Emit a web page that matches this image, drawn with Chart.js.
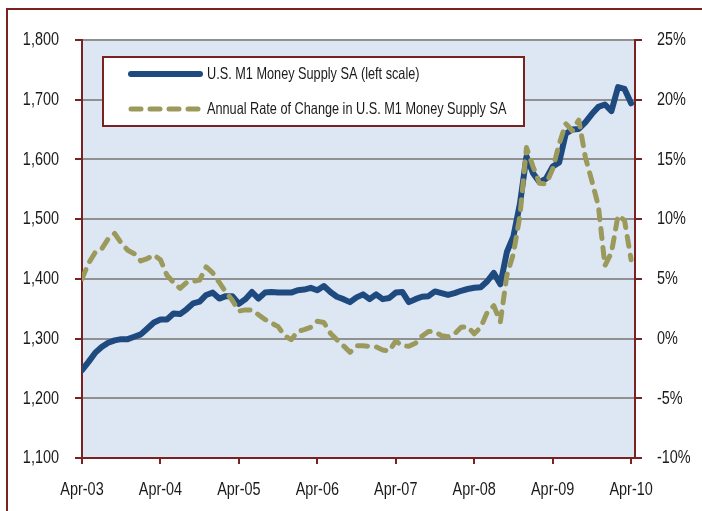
<!DOCTYPE html>
<html>
<head>
<meta charset="utf-8">
<script src="https://cdn.jsdelivr.net/npm/chart.js@4.4.1/dist/chart.umd.min.js"></script>
<style>
  html, body { margin: 0; padding: 0; background: #ffffff; }
  #wrap { width: 702px; height: 511px; position: relative; }
</style>
</head>
<body>
<div id="wrap"><canvas id="c" width="702" height="511"></canvas></div>
<script>
// Monthly data, Apr-03 .. Apr-10 (85 months)
const m1Supply = [
  1247, 1261, 1276, 1286, 1293, 1297, 1299, 1299, 1303, 1307, 1317, 1327,
  1332, 1332, 1342, 1341, 1349, 1359, 1362, 1373, 1377, 1367, 1371, 1371,
  1358, 1366, 1378, 1367, 1377, 1378, 1377, 1377, 1377, 1381, 1382, 1385,
  1381, 1388, 1378, 1370, 1366, 1361, 1369, 1374, 1366, 1374, 1366, 1368,
  1377, 1378, 1361, 1366, 1370, 1371, 1379, 1376, 1373, 1376, 1380, 1383,
  1385, 1386, 1396, 1410, 1391, 1445, 1471, 1526, 1605, 1577, 1562, 1568,
  1588, 1595, 1643, 1650, 1651, 1662, 1676, 1688, 1692, 1681, 1721, 1718,
  1694
];
const annualRate = [
  5.0, 6.3, 7.2, 7.5, 8.35, 8.8, 8.0, 7.4, 7.1, 6.5, 6.7, 7.0,
  6.6, 5.3, 4.7, 4.2, 4.7, 4.8, 4.9, 6.0, 5.5, 4.7, 3.9, 3.2,
  2.3, 2.4, 2.4, 2.0, 1.6, 1.3, 1.0, 0.25, -0.1, 0.6, 0.75, 0.95,
  1.45, 1.35, 0.45, -0.1, -0.6, -1.15, -0.6, -0.6, -0.65, -0.7, -0.95, -1.05,
  -0.2, -0.6, -0.65, -0.4, 0.2, 0.6, 0.55, 0.25, 0.15, 0.4, 0.95, 1.0,
  0.4, 0.95, 2.2, 2.75, 1.4, 5.3, 7.1, 10.3, 16.0, 14.4, 13.0, 12.95,
  14.2, 16.3, 18.0, 17.4, 18.3, 15.2, 13.2, 11.1, 6.1, 7.2, 10.3, 9.9,
  6.6
];
const xTickLabels = ['Apr-03', 'Apr-04', 'Apr-05', 'Apr-06', 'Apr-07', 'Apr-08', 'Apr-09', 'Apr-10'];
const seriesNames = ['U.S. M1 Money Supply SA (left scale)', 'Annual Rate of Change in U.S. M1 Money Supply SA'];

const DARK_RED = '#7a2222';
const BLUE = '#1f4a80';
const OLIVE = '#9b9a5c';
const PLOT_BG = '#dde7f3';
const GRID = '#909090';
const TEXT = '#1a1a1a';
const FONT = '"Liberation Sans", Arial, sans-serif';
const SQUEEZE = 0.76;

function condensedText(ctx, text, x, y, size, align, squeeze) {
  ctx.save();
  ctx.font = size + 'px ' + FONT;
  ctx.fillStyle = TEXT;
  ctx.textAlign = align;
  ctx.textBaseline = 'middle';
  ctx.translate(x, y);
  ctx.scale(squeeze, 1);
  ctx.fillText(text, 0, 0);
  ctx.restore();
}

const bgPlugin = {
  id: 'bg',
  beforeDraw(chart) {
    const { ctx, chartArea: a } = chart;
    ctx.save();
    ctx.fillStyle = '#ffffff';
    ctx.fillRect(0, 0, chart.width, chart.height);
    ctx.fillStyle = PLOT_BG;
    ctx.fillRect(a.left, a.top, a.right - a.left, a.bottom - a.top);
    ctx.restore();
  },
  afterDraw(chart) {
    const { ctx } = chart;
    ctx.save();
    // outer frame (cut off on right/bottom like the reference)
    ctx.strokeStyle = DARK_RED;
    ctx.lineWidth = 2;
    ctx.beginPath();
    ctx.moveTo(7, 520);
    ctx.lineTo(7, 9);
    ctx.lineTo(710, 9);
    ctx.stroke();
    ctx.restore();

    // tick labels (condensed), positioned by the library's scales
    const sx = chart.scales.x, sl = chart.scales.yL, sr = chart.scales.yR;
    sl.ticks.forEach(t => condensedText(ctx, t.label, 59, sl.getPixelForValue(t.value), 19, 'right', SQUEEZE));
    sr.ticks.forEach(t => condensedText(ctx, t.label, 657, sr.getPixelForValue(t.value), 19, 'left', SQUEEZE));
    sx.ticks.forEach(t => condensedText(ctx, t.label, sx.getPixelForValue(t.value), 490, 19, 'center', SQUEEZE));

    // legend box
    ctx.save();
    const lx = 103, ly = 57, lw = 421, lh = 69;
    ctx.fillStyle = '#ffffff';
    ctx.fillRect(lx, ly, lw, lh);
    ctx.strokeStyle = DARK_RED;
    ctx.lineWidth = 2;
    ctx.strokeRect(lx, ly, lw, lh);

    const rows = [
      { y: 74, color: BLUE, width: 6, dash: [], label: seriesNames[0] },
      { y: 109, color: OLIVE, width: 5, dash: [10, 9], label: seriesNames[1] }
    ];
    rows.forEach(r => {
      ctx.beginPath();
      ctx.strokeStyle = r.color;
      ctx.lineWidth = r.width;
      ctx.lineCap = 'round';
      ctx.setLineDash(r.dash);
      ctx.moveTo(131, r.y);
      ctx.lineTo(200, r.y);
      ctx.stroke();
      ctx.setLineDash([]);
      condensedText(ctx, r.label, 207, r.y, 16.5, 'left', 0.77);
    });
    ctx.restore();
  }
};

new Chart(document.getElementById('c'), {
  type: 'line',
  data: {
    datasets: [
      {
        label: seriesNames[0],
        data: m1Supply.map((v, i) => ({ x: i, y: v })),
        yAxisID: 'yL',
        borderColor: BLUE,
        borderWidth: 6,
        borderCapStyle: 'round',
        borderJoinStyle: 'round',
        pointRadius: 0,
        tension: 0,
        order: 1
      },
      {
        label: seriesNames[1],
        data: annualRate.map((v, i) => ({ x: i, y: v })),
        yAxisID: 'yR',
        borderColor: OLIVE,
        borderWidth: 5,
        borderDash: [10, 9],
        borderCapStyle: 'round',
        borderJoinStyle: 'round',
        pointRadius: 0,
        tension: 0,
        order: 0
      }
    ]
  },
  options: {
    responsive: false,
    animation: false,
    layout: { padding: { top: 40, left: 0, right: 0, bottom: 0 } },
    plugins: { legend: { display: false }, tooltip: { enabled: false } },
    scales: {
      x: {
        type: 'linear',
        min: 0,
        max: 84.6,
        afterBuildTicks(scale) {
          scale.ticks = xTickLabels.map((_, i) => ({ value: i * 12 }));
        },
        afterFit(scale) { scale.height = 53; },
        grid: { drawOnChartArea: false, tickLength: 6, tickColor: DARK_RED, lineWidth: 2 },
        border: { color: DARK_RED, width: 2 },
        ticks: {
          display: false,
          autoSkip: false,
          maxRotation: 0,
          callback: (v) => xTickLabels[Math.round(v / 12)]
        }
      },
      yL: {
        position: 'left',
        min: 1100,
        max: 1800,
        afterFit(scale) { scale.width = 82; },
        grid: {
          color: (c) => (c.tick && c.tick.value === 1100 ? 'rgba(0,0,0,0)' : GRID),
          lineWidth: 2,
          tickLength: 7,
          tickColor: DARK_RED
        },
        border: { color: DARK_RED, width: 2 },
        ticks: {
          display: false,
          stepSize: 100,
          callback: (v) => v.toLocaleString('en-US')
        }
      },
      yR: {
        position: 'right',
        min: -10,
        max: 25,
        afterFit(scale) { scale.width = 67; },
        grid: { drawOnChartArea: false, tickLength: 7, tickColor: DARK_RED, lineWidth: 2 },
        border: { color: DARK_RED, width: 2 },
        ticks: {
          display: false,
          stepSize: 5,
          callback: (v) => v + '%'
        }
      }
    }
  },
  plugins: [bgPlugin]
});
</script>
</body>
</html>
